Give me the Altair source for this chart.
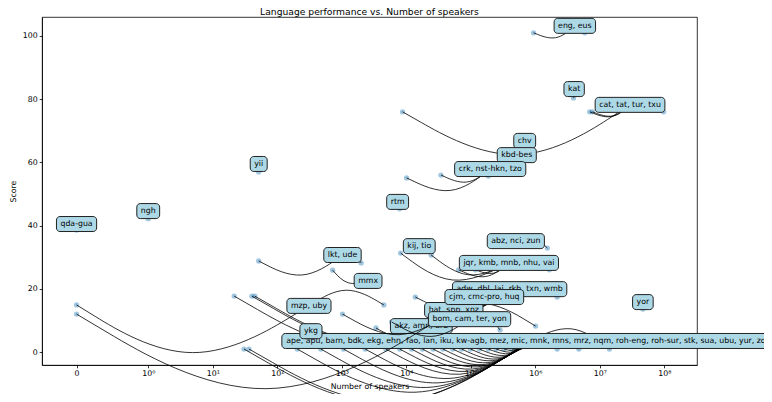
import math
import altair as alt
import pandas as pd

# ------------------------------------------------------------------ data
title_text = "Language performance vs. Number of speakers"
label_text = [
    "eng, eus", "kat", "cat, tat, tur, txu", "chv", "kbd-bes",
    "crk, nst-hkn, tzo", "yii", "rtm", "ngh", "qda-gua", "lkt, ude",
    "abz, nci, zun", "kij, tio", "mmx", "adw, dbl, lai, rkb, txn, wmb",
    "jqr, kmb, mnb, nhu, vai", "akz, amn, urb",
    "ape, apu, bam, bdk, ekg, ehn, fao, lan, iku, kw-agb, mez, mic, mnk, mns, mrz, nqm, roh-eng, roh-sur, stk, sua, ubu, yur, zom",
    "hat, spp, xnz", "cjm, cmc-pro, huq", "bom, cam, ter, yon", "ykg",
    "mzp, uby", "yor",
]
label_x = [4.1e6, 4.0e6, 2.94e7, 6.85e5, 5.16e5, 2.0e5, 51.6, 7345, 1.0, 0,
           1026, 4.99e5, 1.59e4, 2559, 4.0e5, 3.9e5, 1.71e4, 8.2e5, 5.45e4,
           1.62e5, 9.57e4, 333, 310, 4.65e7]
label_y = [103.2, 83.2, 78.2, 66.8, 62.3, 57.9, 59.5, 47.5, 44.6, 40.5, 30.7,
           35.1, 33.5, 22.5, 19.9, 28.2, 8.2, 3.5, 13.3, 17.4, 10.4, 6.6, 14.6,
           15.8]

point_group = ([0, 0, 1, 2, 2, 2, 2, 3, 4, 5, 5, 5, 6, 7, 8, 9, 10, 10,
                11, 11, 11, 12, 12, 13, 14, 14, 14, 14, 14, 14,
                15, 15, 15, 15, 15, 16, 16, 16] + [17] * 23 +
               [18, 18, 18, 19, 19, 19, 20, 20, 20, 20, 21, 22, 22, 23])
point_x = [9.4e5, 5.85e6, 3.9e6, 8750, 6.97e6, 7.7e6, 9.73e7, 6.85e5, 5.16e5,
           1.01e4, 3.45e4, 1.87e5, 51.6, 7880, 1.0, 0, 51.6, 2000,
           1.54e6, 2.65e5, 7.1e5, 1.12e4, 2.1e4, 721,
           21.5, 40.4, 44.9, 1.38e4, 2.18e6, 1.08e6,
           8170, 2.43e4, 6.5e4, 1.18e5, 1.65e6,
           3390, 1.54e4, 1.01e6,
           30.5, 36.4, 204, 473, 1062, 2300, 4820, 7890, 1.2e4, 1.77e4, 2.6e4,
           3.7e4, 5.26e4, 7.2e4, 9.9e4, 1.36e5, 1.87e5, 2.47e5, 3.27e5, 4.34e5,
           2.18e6, 4.73e6, 1.41e7,
           0, 1026, 5.45e4, 5.45e4, 1.1e5, 3.27e5,
           3.45e4, 4.57e4, 5940, 2.84e5, 357, 0, 4490, 4.65e7]
point_y = [101, 101, 80.4, 76, 76, 76, 76, 65.2, 61.4, 55.1, 56.0, 55.7, 57.0,
           45.3, 42.2, 38.6, 28.8, 28.2, 32.9, 33.5, 33.5, 32.6, 32.6, 25.9,
           17.7, 17.7, 17.7, 17.4, 17.4, 18.7,
           31.3, 30.7, 26, 26, 26,
           7.6, 8.2, 8.2] + [0.95] * 23 + [
           12.0, 12.0, 12.7, 17.1, 16.5, 16.5,
           11.1, 11.1, 9.5, 7.0, 5.1, 14.9, 14.9, 13.6]

x_tick_values = [0] + [1 / 0.9 + n for n in range(9)]
y_tick_values = [0, 20, 40, 60, 80, 100]

# ------------------------------------------------------------------ layout / style
W, H = 655, 348
T_MIN, T_MAX = -0.458, 9.54
Y_MIN, Y_MAX = -4.1, 106.0
K = 1 / (1 - 1 / 10)          # matplotlib symlog linscale adjustment
FONT = "DejaVu Sans"
LABEL_FS = 7.8
BOX_H = 15                    # px
RAD = -0.4                    # arc3 connection style

char_w = {'a': .613, 'b': .635, 'c': .550, 'd': .635, 'e': .615, 'f': .352,
          'g': .635, 'h': .634, 'i': .278, 'j': .278, 'k': .579, 'l': .278,
          'm': .974, 'n': .634, 'o': .612, 'p': .635, 'q': .635, 'r': .411,
          's': .521, 't': .392, 'u': .634, 'v': .592, 'w': .818, 'x': .592,
          'y': .592, 'z': .525, ',': .318, ' ': .318, '-': .361}


def text_w(s):
    return sum(char_w.get(c, 0.6) for c in s) * LABEL_FS + 8


def fwd(s):
    return s * K if abs(s) < 1 else math.copysign(K + math.log10(abs(s)), s)


def inv(t):
    return t / K if abs(t) < K else math.copysign(10 ** (abs(t) - K), t)


PX = W / (T_MAX - T_MIN)
PY = H / (Y_MAX - Y_MIN)
half_box = BOX_H / 2 / PY

labels = pd.DataFrame({
    "i": list(range(len(label_text))),
    "text": label_text,
    "x": label_x,
    "y": label_y,
    "w": [text_w(s) for s in label_text],
})
points = pd.DataFrame({"x": point_x, "y": point_y, "g": point_group})

rows = []
for cid, (g, x, y) in enumerate(zip(point_group, point_x, point_y)):
    lx, ly = label_x[g], label_y[g]
    x1, y1 = fwd(lx) * PX, ly * PY
    x2, y2 = fwd(x) * PX, y * PY
    dx, dy = x2 - x1, y2 - y1
    cx = (x1 + x2) / 2 + 0.75 * RAD * dy
    cy = (y1 + y2) / 2 - 0.75 * RAD * dx
    rows.append(dict(cid=cid, i=g, o=0, x=lx, y=ly))
    rows.append(dict(cid=cid, i=g, o=1, x=inv(cx / PX), y=cy / PY))
    rows.append(dict(cid=cid, i=g, o=2, x=x, y=y))
curves = pd.DataFrame(rows)

T_EXPR = ("abs(datum.x) < 1 ? datum.x * %.7f : (datum.x < 0 ? -1 : 1) * "
          "(%.7f + log(abs(datum.x)) / LN10)" % (K, K))

xs = alt.Scale(domain=[T_MIN, T_MAX], nice=False, zero=False)
ys = alt.Scale(domain=[Y_MIN, Y_MAX], nice=False, zero=False)

sup = "['\u2070','\u00b9','\u00b2','\u00b3','\u2074','\u2075','\u2076','\u2077','\u2078']"
x_axis = alt.Axis(values=x_tick_values, title="Number of speakers",
                  labelExpr="datum.value < 0.5 ? '0' : '10' + %s[round(datum.value - %.5f)]" % (sup, K),
                  titlePadding=5)
y_axis = alt.Axis(values=y_tick_values, title="Score", titlePadding=5)


def X(field="t"):
    return alt.X(f"{field}:Q", scale=xs, axis=x_axis, title="Number of speakers")


def Y(field="y"):
    return alt.Y(f"{field}:Q", scale=ys, axis=y_axis, title="Score")


pts = alt.Chart(points).transform_calculate(t=T_EXPR).mark_circle(
    size=28, color="#1f77b4", opacity=0.42
).encode(x=X(), y=Y())

layers = [pts]
for k in range(len(label_text)):
    cur = alt.Chart(curves).transform_filter(f"datum.i == {k}").transform_calculate(
        t=T_EXPR
    ).mark_line(interpolate="basis", color="black", strokeWidth=0.8).encode(
        x=X(), y=Y(), detail="cid:N", order="o:Q",
    )
    box = alt.Chart(labels).transform_filter(f"datum.i == {k}").transform_calculate(
        t=T_EXPR, y0=f"datum.y - {half_box}", y1=f"datum.y + {half_box}"
    ).mark_bar(fill="#add8e6", stroke="#222222", strokeWidth=1.0, cornerRadius=3.5).encode(
        x=X(), y=Y("y0"), y2="y1:Q", size=alt.Size("w:Q", scale=None),
    )
    txt = alt.Chart(labels).transform_filter(f"datum.i == {k}").transform_calculate(
        t=T_EXPR
    ).mark_text(font=FONT, fontSize=LABEL_FS, color="black", align="center",
                baseline="middle").encode(
        x=X(), y=Y(), text="text:N",
    )
    layers += [cur, box, txt]

title = alt.Chart(pd.DataFrame({"title": [title_text]})).mark_text(
    font=FONT, fontSize=9.2, color="black", align="center", baseline="alphabetic"
).encode(x=alt.value(W / 2), y=alt.value(-2.5), text="title:N")
layers.append(title)

chart = alt.layer(*layers).properties(
    width=W, height=H,
    autosize=alt.AutoSizeParams(type="none"),
    padding={"left": 34, "top": 9, "right": 67, "bottom": 29},
).configure_view(stroke="black", strokeWidth=0.8).configure_axis(
    grid=False, domainColor="black", tickColor="black", labelColor="black",
    labelFont=FONT, labelFontSize=7.8, titleFont=FONT, titleFontSize=7.8,
    titleFontWeight="normal", titleColor="black", tickSize=2.8,
    domainWidth=0.8, tickWidth=0.8, labelPadding=2,
)

chart.save("out.html", embed_options={"renderer": "svg", "actions": False})
